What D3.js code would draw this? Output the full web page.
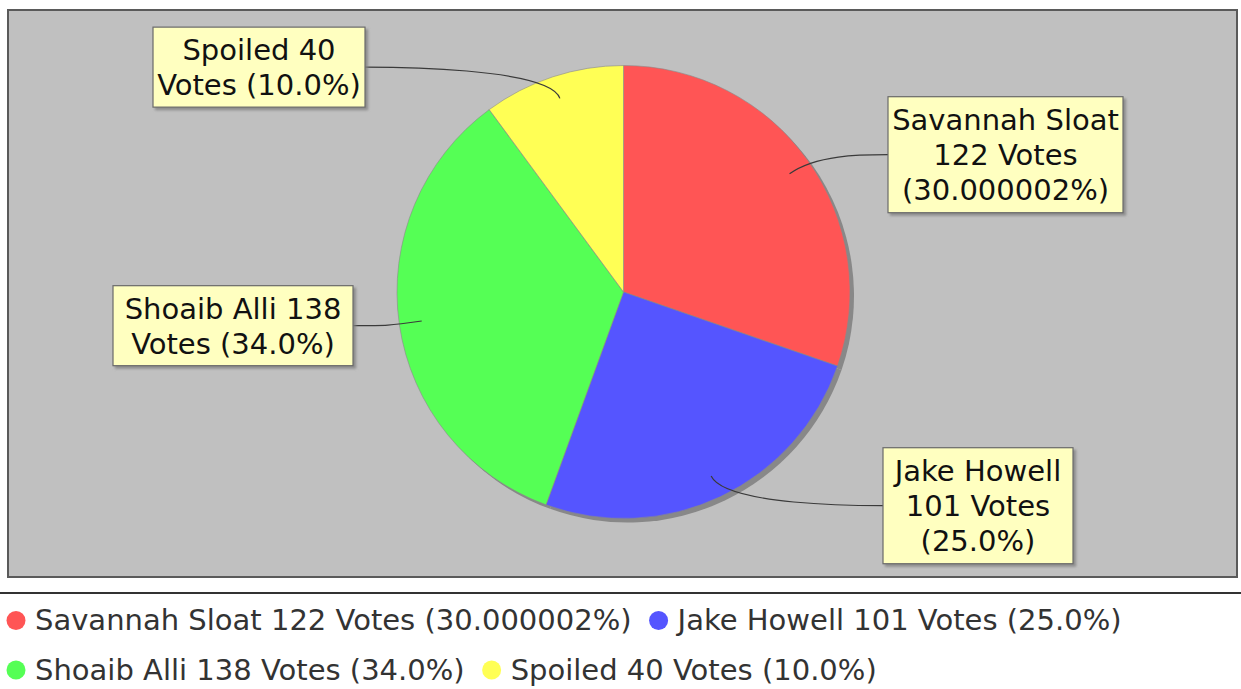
<!DOCTYPE html>
<html>
<head>
<meta charset="utf-8">
<script src="https://cdn.jsdelivr.net/npm/d3@7"></script>
<style>
  html, body { margin: 0; padding: 0; background: #ffffff; }
  svg { display: block; }
  text { font-family: "DejaVu Sans", sans-serif; }
</style>
</head>
<body>
<svg id="chart" width="1241" height="689"></svg>
<script>
// ---- data ----
const candidates = ["Savannah Sloat", "Jake Howell", "Shoaib Alli", "Spoiled"];
const votes = [122, 101, 138, 40];
const percentLabels = ["30.000002%", "25.0%", "34.0%", "10.0%"];
const percentValues = [30.000002, 25.0, 34.0, 10.0];
const sliceColors = ["#ff5555", "#5555ff", "#55ff55", "#ffff55"];
// label box text lines (as wrapped in the reference)
const labelLines = [
  ["Savannah Sloat", "122 Votes", "(30.000002%)"],
  ["Jake Howell", "101 Votes", "(25.0%)"],
  ["Shoaib Alli 138", "Votes (34.0%)"],
  ["Spoiled 40", "Votes (10.0%)"]
];
const legendLabels = candidates.map((c, i) => `${c} ${votes[i]} Votes (${percentLabels[i]})`);

// ---- layout ----
const W = 1241, H = 689;
const svg = d3.select("#chart");
const plot = { x: 8, y: 10, w: 1229, h: 567 };
const cx = 623.5, cy = 292, R = 226.5;
const linkR = R * 0.9, elbowR = R * 1.045;
// label box horizontal extents [x0, x1]
const boxX = [[888, 1123], [883, 1073], [113, 353], [153, 365]];

const defs = svg.append("defs");
const f = defs.append("filter").attr("id", "boxshadow").attr("x", "-10%").attr("y", "-10%").attr("width", "130%").attr("height", "130%");
f.append("feDropShadow").attr("dx", 2.5).attr("dy", 2.5).attr("stdDeviation", 1.2)
  .attr("flood-color", "#808080").attr("flood-opacity", 0.8);

svg.append("rect").attr("width", W).attr("height", H).attr("fill", "#ffffff");

// fit font size to legend text width of reference
const probe = svg.append("text").attr("font-size", 100).text(legendLabels[0]);
const fs = 100 * 597 / probe.node().getComputedTextLength();
probe.remove();

// plot area
svg.append("rect").attr("x", plot.x).attr("y", plot.y).attr("width", plot.w).attr("height", plot.h)
  .attr("fill", "#c0c0c0").attr("stroke", "#5a5a5a").attr("stroke-width", 2);

const pie = d3.pie().sort(null).value(d => d).startAngle(0).endAngle(2 * Math.PI);
const arcs = pie(percentValues);
const arc = d3.arc().innerRadius(0).outerRadius(R);

// shadow
svg.append("g").attr("transform", `translate(${cx + 4},${cy + 4})`)
  .selectAll("path").data(arcs).join("path")
  .attr("d", arc).attr("fill", "#888888");

// slices
svg.append("g").attr("transform", `translate(${cx},${cy})`)
  .selectAll("path").data(arcs).join("path")
  .attr("d", arc).attr("fill", (d, i) => sliceColors[i])
  .attr("stroke", "#8a8a8a").attr("stroke-width", 0.6);

// labels and links
const lineH = 35;
arcs.forEach((a, i) => {
  const mid = (a.startAngle + a.endAngle) / 2;
  const sx = Math.sin(mid), sy = -Math.cos(mid);
  const right = sx >= 0;
  const lx = cx + sx * linkR, ly = cy + sy * linkR;
  const ex = cx + sx * elbowR, ey = cy + sy * elbowR;
  const ax = right ? cx + elbowR : cx - elbowR;
  const [bx0, bx1] = boxX[i];
  const tx = right ? bx0 : bx1;
  const p = d3.path();
  p.moveTo(lx, ly);
  p.bezierCurveTo(ex, ey, ax, ey, tx, ey);
  svg.append("path").attr("d", p.toString()).attr("fill", "none")
    .attr("stroke", "#3a3a3a").attr("stroke-width", 1.2);

  const lines = labelLines[i];
  const bh = 8 + 36 * lines.length;
  const by = ey - bh / 2;
  svg.append("rect").attr("x", bx0).attr("y", by).attr("width", bx1 - bx0).attr("height", bh)
    .attr("fill", "#ffffc0").attr("stroke", "#6a6a6a").attr("stroke-width", 1.2)
    .attr("filter", "url(#boxshadow)");
  const t = svg.append("text").attr("text-anchor", "middle").attr("font-size", fs).attr("fill", "#111");
  lines.forEach((ln, k) => {
    t.append("tspan").attr("x", (bx0 + bx1) / 2).attr("y", by + 33 + k * lineH).text(ln);
  });
});

// legend
svg.append("line").attr("x1", 0).attr("x2", W).attr("y1", 593).attr("y2", 593)
  .attr("stroke", "#333").attr("stroke-width", 2);

const rowBase = [630, 679.5];
const rows = [[0, 1], [2, 3]];
rows.forEach((row, r) => {
  let x = 6;
  row.forEach(i => {
    svg.append("circle").attr("cx", x + 10).attr("cy", rowBase[r] - 9.5).attr("r", 9.5)
      .attr("fill", sliceColors[i]);
    const t = svg.append("text").attr("x", x + 29).attr("y", rowBase[r])
      .attr("font-size", fs).attr("fill", "#333").text(legendLabels[i]);
    x = x + 29 + t.node().getComputedTextLength() + 17;
  });
});
</script>
</body>
</html>
